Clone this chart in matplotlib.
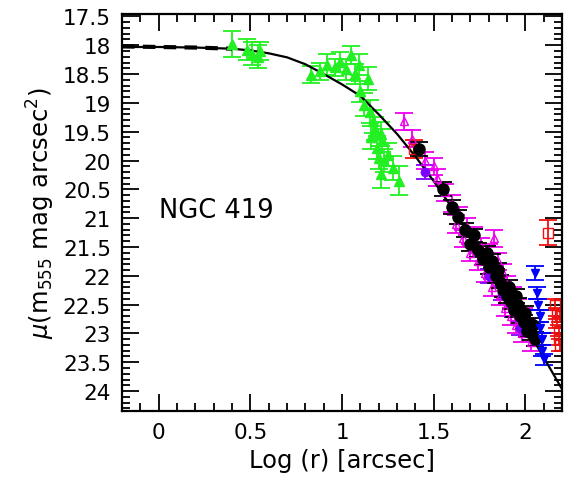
import matplotlib
matplotlib.use("Agg")
import matplotlib.pyplot as plt
from matplotlib.ticker import MultipleLocator, FormatStrFormatter

# surface brightness profile of NGC 419
# model curve
model_logr = [-0.2, 0.0, 0.2, 0.4, 0.5, 0.6, 0.7, 0.8, 0.9, 1.0, 1.1,
              1.2, 1.3, 1.4, 1.5, 1.6, 1.7, 1.8, 1.9, 2.0, 2.1, 2.2]
model_mu = [18.03, 18.03, 18.04, 18.06, 18.09, 18.14, 18.21, 18.33, 18.5, 18.68, 18.88,
            19.2, 19.54, 19.93, 20.36, 20.82, 21.32, 21.85, 22.35, 22.88, 23.42, 23.97]
# inner dashed segment
core_logr = [-0.2, 0.0, 0.2, 0.4]
core_mu = [18.02, 18.03, 18.04, 18.06]

# green: ground based points
green_x = [0.40, 0.48, 0.51, 0.54, 0.55, 0.83, 0.88, 0.92, 0.96, 0.99, 1.02, 1.05, 1.07, 1.09, 1.10,
           1.12, 1.14, 1.15, 1.17, 1.18, 1.19, 1.21, 1.22, 1.23, 1.21, 1.25, 1.28, 1.31, 1.16, 1.20]
green_y = [17.98, 18.08, 18.15, 18.2, 18.1, 18.51, 18.45, 18.34, 18.38, 18.29, 18.42, 18.17, 18.5, 18.34, 18.8,
           19.03, 18.58, 19.15, 19.32, 19.45, 19.78, 19.54, 19.65, 20.0, 20.23, 19.9, 20.13, 20.35, 19.6, 19.95]
green_e = [0.22, 0.18, 0.2, 0.2, 0.15, 0.15, 0.15, 0.18, 0.15, 0.18, 0.18, 0.15, 0.18, 0.18, 0.18,
           0.2, 0.2, 0.2, 0.2, 0.2, 0.2, 0.2, 0.2, 0.2, 0.25, 0.2, 0.2, 0.25, 0.2, 0.2]

# magenta
mag_x = [1.34, 1.38, 1.45, 1.50, 1.52, 1.56, 1.60, 1.64, 1.68, 1.72, 1.76, 1.80, 1.83,
         1.85, 1.88, 1.90, 1.93, 1.96, 1.99, 2.01, 1.62, 1.74, 1.86, 1.92,
         1.66, 1.70, 1.78, 1.82, 1.89, 1.95, 1.98, 2.03]
mag_y = [19.32, 19.62, 20.0, 20.1, 20.3, 20.55, 20.75, 20.95, 21.15, 21.3, 21.5, 21.6, 21.35,
         21.75, 21.95, 22.15, 22.35, 22.55, 22.7, 22.9, 21.1, 21.75, 22.35, 22.7,
         21.35, 21.6, 21.95, 22.2, 22.55, 22.85, 23.0, 23.15]
mag_e = [0.15] * len(mag_x)

# black
blk_x = [1.42, 1.55, 1.60, 1.63, 1.67, 1.70, 1.74, 1.77, 1.80, 1.82, 1.84,
         1.86, 1.88, 1.90, 1.92, 1.94, 1.96, 1.97, 1.99, 2.01, 2.03, 2.05,
         1.72, 1.79, 1.85, 1.91, 1.95, 2.00, 2.04]
blk_y = [19.8, 20.5, 20.8, 20.98, 21.2, 21.45, 21.55, 21.7, 21.85, 21.75, 22.0,
         22.1, 22.25, 22.35, 22.45, 22.6, 22.5, 22.7, 22.8, 22.95, 23.0, 23.1,
         21.3, 21.6, 21.9, 22.2, 22.35, 22.65, 22.85]
blk_e = [0.12] * len(blk_x)

# purple
pur_x = [1.45, 1.80, 1.87, 1.93, 1.97]
pur_y = [20.2, 22.0, 22.3, 22.6, 22.9]
pur_e = [0.12] * len(pur_x)

# blue
blu_x = [2.05, 2.06, 2.07, 2.08, 2.08, 2.09, 2.09, 2.10]
blu_y = [21.95, 22.3, 22.5, 22.7, 22.9, 23.1, 23.3, 23.45]
blu_e = [0.12, 0.1, 0.1, 0.1, 0.1, 0.1, 0.1, 0.1]

# red
red_x = [2.12, 2.16, 2.17, 2.17, 2.18, 2.18, 2.19, 2.19, 1.39]
red_y = [21.25, 22.5, 22.65, 22.8, 22.95, 23.1, 23.2, 22.7, 19.8]
red_e = [0.22, 0.1, 0.1, 0.1, 0.1, 0.1, 0.1, 0.1, 0.15]

plt.rcParams["font.family"] = "DejaVu Sans"

fig = plt.figure(figsize=(5.65, 4.85), dpi=100)
ax = fig.add_axes([0.216, 0.150, 0.779, 0.820])

ebkw = dict(ls="none", capsize=6.5, elinewidth=1.3, capthick=1.3)
ax.errorbar(green_x, green_y, yerr=green_e, fmt="^", color="#22f022", ms=7, **ebkw)
ax.errorbar(mag_x, mag_y, yerr=mag_e, fmt="^", color="#ee00ee", mfc="none", ms=6, **ebkw)
ax.errorbar(red_x, red_y, yerr=red_e, fmt="s", color="#ee1111", mfc="none", ms=7, **ebkw)
ax.errorbar(pur_x, pur_y, yerr=pur_e, fmt="o", color="#8000ff", ms=6, **ebkw)
ax.errorbar(blk_x, blk_y, yerr=blk_e, fmt="o", color="black", ms=8, **ebkw)
ax.errorbar(blu_x, blu_y, yerr=blu_e, fmt="v", color="#0000ff", ms=6, **ebkw)

ax.plot(model_logr, model_mu, color="black", lw=1.6)
ax.plot(core_logr, core_mu, color="black", lw=3, ls=(0, (3, 2)))

ax.text(0.0, 20.86, "NGC 419", fontsize=18.5, va="center", ha="left")

ax.set_xlim(-0.2, 2.2)
ax.set_ylim(24.35, 17.45)

ax.xaxis.set_major_locator(MultipleLocator(0.5))
ax.xaxis.set_minor_locator(MultipleLocator(0.1))
ax.yaxis.set_major_locator(MultipleLocator(0.5))
ax.yaxis.set_minor_locator(MultipleLocator(0.1))
ax.xaxis.set_major_formatter(FormatStrFormatter("%g"))
ax.yaxis.set_major_formatter(FormatStrFormatter("%g"))

ax.tick_params(which="both", direction="in", top=True, right=True, width=1.3, labelsize=15.5)
ax.tick_params(which="major", length=12, pad=8)
ax.tick_params(which="minor", length=6)
for s in ax.spines.values():
    s.set_linewidth(1.6)

ax.set_xlabel("Log (r) [arcsec]", fontsize=17.5, labelpad=4)
ax.set_ylabel(r"$\mu$(m$_{555}$ mag arcsec$^2$)", fontsize=17.5, labelpad=4)

fig.savefig("out.png", dpi=100)
